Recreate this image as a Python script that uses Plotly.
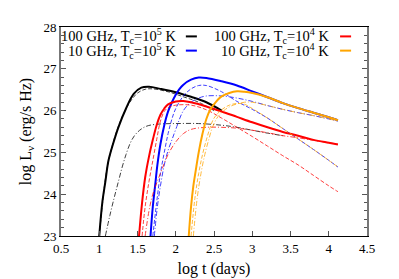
import plotly.graph_objects as go

# ---- data (log t [days], log L_nu [erg/s Hz]) ----
# 100 GHz, Tc=1e5 K (black)
blk_solid_x = [1.0, 1.04, 1.08, 1.12, 1.18, 1.25, 1.35, 1.45, 1.55, 1.65, 1.8, 2.0, 2.2, 2.4, 2.6]
blk_solid_y = [23.0, 23.8, 24.3, 24.8, 25.2, 25.6, 26.05, 26.4, 26.55, 26.57, 26.52, 26.44, 26.33, 26.2, 26.0]
blk_dash_x = [1.0, 1.05, 1.1, 1.2, 1.3, 1.4, 1.5, 1.6, 1.7, 1.9, 2.1, 2.3, 2.5]
blk_dash_y = [23.0, 23.9, 24.6, 25.35, 25.85, 26.2, 26.42, 26.51, 26.52, 26.45, 26.33, 26.2, 26.0]
blk_dd_x = [1.08, 1.14, 1.2, 1.25, 1.3, 1.35, 1.4, 1.46, 1.55, 1.64, 1.8, 2.0, 2.3, 2.6, 2.8, 3.0, 3.2, 3.4]
blk_dd_y = [23.0, 23.5, 23.95, 24.3, 24.65, 24.95, 25.2, 25.4, 25.56, 25.64, 25.68, 25.69, 25.69, 25.65, 25.6, 25.53, 25.46, 25.4]

# 10 GHz, Tc=1e5 K (blue)
blu_solid_x = [1.67, 1.7, 1.73, 1.76, 1.8, 1.85, 1.9, 1.95, 2.0, 2.05, 2.1, 2.2, 2.3, 2.4, 2.6, 2.8, 3.0, 3.2, 3.4, 3.6, 3.8, 4.0, 4.12]
blu_solid_y = [23.0, 23.7, 24.2, 24.7, 25.2, 25.65, 25.98, 26.2, 26.38, 26.52, 26.62, 26.74, 26.79, 26.78, 26.7, 26.6, 26.46, 26.32, 26.18, 26.06, 25.95, 25.84, 25.77]
blu_dash_x = [1.7, 1.75, 1.8, 1.85, 1.9, 1.95, 2.0, 2.1, 2.2, 2.3, 2.4, 2.6, 2.8, 3.0, 3.2, 3.4, 3.6, 3.8, 4.0, 4.12]
blu_dash_y = [23.0, 23.8, 24.5, 25.0, 25.45, 25.8, 26.05, 26.35, 26.52, 26.6, 26.6, 26.45, 26.22, 26.03, 25.82, 25.57, 25.32, 25.07, 24.81, 24.65]
blu_dd_x = [1.72, 1.76, 1.8, 1.85, 1.9, 1.95, 2.0, 2.1, 2.2, 2.3, 2.4, 2.6, 2.8, 3.0, 3.2, 3.4, 3.6, 3.8, 4.0, 4.12]
blu_dd_y = [23.0, 23.7, 24.2, 24.7, 25.05, 25.3, 25.55, 26.0, 26.2, 26.3, 26.35, 26.35, 26.3, 26.22, 26.12, 26.03, 25.95, 25.88, 25.8, 25.75]

# 100 GHz, Tc=1e4 K (red)
red_solid_x = [1.52, 1.56, 1.6, 1.65, 1.7, 1.75, 1.8, 1.85, 1.9, 2.0, 2.1, 2.2, 2.4, 2.6, 2.8, 3.0, 3.2, 3.4, 3.6, 3.8, 4.0, 4.12]
red_solid_y = [23.0, 23.8, 24.4, 24.9, 25.3, 25.65, 25.9, 26.05, 26.15, 26.22, 26.23, 26.2, 26.1, 25.98, 25.85, 25.72, 25.6, 25.49, 25.4, 25.3, 25.23, 25.19]
red_dash_x = [1.56, 1.6, 1.65, 1.7, 1.75, 1.8, 1.85, 1.9, 2.0, 2.2, 2.4, 2.6, 2.8, 3.0, 3.2, 3.4, 3.6, 3.8, 4.0, 4.12]
red_dash_y = [23.0, 23.7, 24.3, 24.8, 25.3, 25.75, 25.98, 26.07, 26.13, 26.13, 26.02, 25.82, 25.6, 25.38, 25.15, 24.92, 24.7, 24.45, 24.2, 24.06]
red_dd_x = [1.6, 1.65, 1.7, 1.8, 1.9, 2.0, 2.1, 2.2, 2.4, 2.6, 2.8, 3.0, 3.2, 3.4, 3.6, 3.8, 4.0, 4.12]
red_dd_y = [23.0, 23.6, 24.0, 24.5, 24.95, 25.25, 25.45, 25.55, 25.6, 25.6, 25.58, 25.53, 25.47, 25.4, 25.35, 25.29, 25.23, 25.2]

# 10 GHz, Tc=1e4 K (orange)
org_solid_x = [2.17, 2.2, 2.23, 2.26, 2.3, 2.35, 2.4, 2.45, 2.5, 2.55, 2.6, 2.7, 2.8, 2.9, 3.0, 3.2, 3.4, 3.6, 3.8, 4.0, 4.12]
org_solid_y = [23.0, 23.7, 24.2, 24.55, 25.0, 25.45, 25.8, 26.02, 26.15, 26.26, 26.34, 26.42, 26.46, 26.45, 26.42, 26.32, 26.18, 26.06, 25.95, 25.84, 25.77]
org_dash_x = [2.2, 2.25, 2.3, 2.35, 2.4, 2.45, 2.5, 2.6, 2.7, 2.8, 2.9, 3.0, 3.2, 3.4, 3.6, 3.8, 4.0, 4.12]
org_dash_y = [23.0, 23.9, 24.5, 24.95, 25.3, 25.6, 25.82, 26.02, 26.13, 26.17, 26.15, 26.05, 25.82, 25.57, 25.32, 25.07, 24.81, 24.65]
org_dd_x = [2.23, 2.28, 2.33, 2.38, 2.43, 2.48, 2.55, 2.65, 2.75, 2.9, 3.0, 3.2, 3.4, 3.6, 3.8, 4.0, 4.12]
org_dd_y = [23.0, 23.9, 24.5, 24.95, 25.3, 25.6, 25.85, 26.03, 26.13, 26.2, 26.2, 26.12, 26.03, 25.95, 25.88, 25.8, 25.75]

legend_labels = ["100 GHz, T<sub>c</sub>=10<sup>5</sup> K", "10 GHz, T<sub>c</sub>=10<sup>5</sup> K",
                 "100 GHz, T<sub>c</sub>=10<sup>4</sup> K", "10 GHz, T<sub>c</sub>=10<sup>4</sup> K"]
colors = ["#000000", "#0000ff", "#ff0000", "#ffa500"]

x_ticks = [0.5, 1, 1.5, 2, 2.5, 3, 3.5, 4, 4.5]
y_ticks = [23, 24, 25, 26, 27, 28]

series = [
    (blk_solid_x, blk_solid_y, blk_dash_x, blk_dash_y, blk_dd_x, blk_dd_y),
    (blu_solid_x, blu_solid_y, blu_dash_x, blu_dash_y, blu_dd_x, blu_dd_y),
    (red_solid_x, red_solid_y, red_dash_x, red_dash_y, red_dd_x, red_dd_y),
    (org_solid_x, org_solid_y, org_dash_x, org_dash_y, org_dd_x, org_dd_y),
]

fig = go.Figure()
for (sx, sy, dx, dy, ddx, ddy), c in zip(series, colors):
    fig.add_trace(go.Scatter(x=dx, y=dy, mode="lines", line=dict(color=c, width=1, dash="4px,2px", shape="spline"),
                             opacity=0.75, showlegend=False))
    fig.add_trace(go.Scatter(x=ddx, y=ddy, mode="lines", line=dict(color=c, width=1, dash="5px,2px,1px,2px", shape="spline"),
                             opacity=0.75, showlegend=False))
    fig.add_trace(go.Scatter(x=sx, y=sy, mode="lines", line=dict(color=c, width=2, shape="spline"),
                             showlegend=False))

font = "Liberation Serif"
fig.update_layout(
    width=399, height=279,
    margin=dict(l=53, r=40, t=16, b=42),
    paper_bgcolor="white", plot_bgcolor="white",
    font=dict(family=font, size=13, color="black"),
    showlegend=False,
)
fig.update_xaxes(range=[0.5, 4.5], tickvals=x_ticks, ticktext=[str(v) for v in x_ticks],
                 ticks="inside", ticklen=5, tickcolor="#555", showgrid=False, zeroline=False,
                 showline=True, linecolor="black", linewidth=1, mirror=True,
                 title=dict(text="log t (days)", standoff=8))
fig.update_yaxes(range=[23, 28], tickvals=y_ticks, ticks="inside", ticklen=5, tickcolor="#555",
                 minor=dict(dtick=0.2, ticks="inside", ticklen=3, tickcolor="#555"),
                 showgrid=False, zeroline=False, showline=True, linecolor="#777", linewidth=2, mirror="ticks",
                 title=dict(text="log L<sub>ν</sub> (erg/s Hz)", standoff=8))

# legend built gnuplot-style (text right-aligned, sample on the right)
leg_pos = [(0.382, 0.955, 0.408, 0.444), (0.382, 0.887, 0.408, 0.444),
           (0.882, 0.955, 0.912, 0.948), (0.882, 0.887, 0.912, 0.948)]
for lab, c, (tx, ty, lx0, lx1) in zip(legend_labels, colors, leg_pos):
    fig.add_annotation(x=tx, y=ty, xref="paper", yref="paper", text=lab, showarrow=False,
                       xanchor="right", yanchor="middle", font=dict(family=font, size=14.5))
    fig.add_shape(type="line", xref="paper", yref="paper", x0=lx0, x1=lx1, y0=ty, y1=ty,
                  line=dict(color=c, width=2))

fig.write_html("out.html")
